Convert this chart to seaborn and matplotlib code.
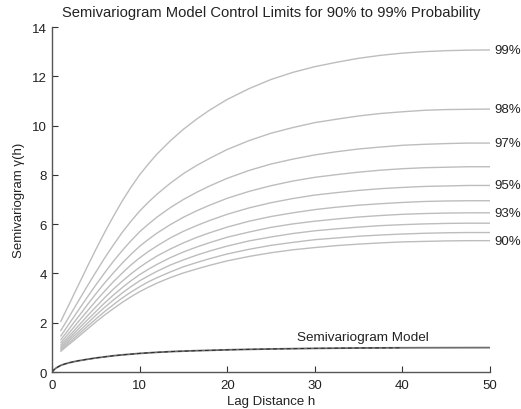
import matplotlib
matplotlib.use("Agg")
import matplotlib.pyplot as plt
import seaborn as sns
import pandas as pd

lag_limits = [1, 1.5, 2, 2.5, 3, 3.5, 4, 5, 6, 7, 8, 9, 10, 11, 12, 13.5, 15, 16.5, 18, 20,
              22.5, 25, 27.5, 30, 32.5, 35, 37.5, 40, 42.5, 45, 47.5, 50]
lag_model = [0, 0.25, 0.5, 1, 1.5, 2, 2.5, 3, 4, 5, 6, 7, 8, 10, 12, 14, 16, 18, 20,
             22.5, 25, 30, 35, 40, 45, 50]

model = [0, 0.10, 0.17, 0.27, 0.33, 0.38, 0.42, 0.455, 0.515, 0.57, 0.615, 0.66, 0.695,
         0.755, 0.80, 0.835, 0.86, 0.88, 0.90, 0.92, 0.935, 0.96, 0.975, 0.983, 0.987, 0.99]

# control limits, one list per probability
limits = {
    99: [2.05, 2.42, 2.78, 3.15, 3.52, 3.88, 4.25, 4.97, 5.66, 6.31, 6.93, 7.49, 8.00, 8.44, 8.85, 9.38,
         9.85, 10.26, 10.63, 11.06, 11.50, 11.87, 12.16, 12.39, 12.57, 12.73, 12.85, 12.94, 13.00, 13.04, 13.06, 13.07],
    98: [1.68, 1.97, 2.27, 2.57, 2.87, 3.17, 3.47, 4.05, 4.62, 5.15, 5.66, 6.11, 6.53, 6.89, 7.22, 7.66,
         8.05, 8.38, 8.67, 9.03, 9.39, 9.69, 9.92, 10.12, 10.26, 10.39, 10.49, 10.56, 10.62, 10.65, 10.66, 10.67],
    97: [1.46, 1.72, 1.98, 2.24, 2.50, 2.76, 3.02, 3.53, 4.02, 4.49, 4.92, 5.32, 5.69, 6.00, 6.29, 6.67,
         7.00, 7.29, 7.55, 7.86, 8.18, 8.44, 8.64, 8.81, 8.94, 9.05, 9.13, 9.20, 9.24, 9.27, 9.29, 9.29],
    96: [1.31, 1.54, 1.77, 2.01, 2.24, 2.47, 2.71, 3.17, 3.61, 4.02, 4.41, 4.77, 5.10, 5.38, 5.64, 5.98,
         6.28, 6.54, 6.77, 7.05, 7.33, 7.56, 7.75, 7.90, 8.01, 8.11, 8.19, 8.25, 8.29, 8.31, 8.33, 8.33],
    95: [1.19, 1.40, 1.61, 1.82, 2.04, 2.25, 2.46, 2.88, 3.28, 3.66, 4.01, 4.34, 4.63, 4.89, 5.12, 5.44,
         5.71, 5.94, 6.15, 6.40, 6.66, 6.87, 7.04, 7.18, 7.28, 7.37, 7.44, 7.49, 7.53, 7.55, 7.57, 7.57],
    94: [1.09, 1.29, 1.48, 1.67, 1.87, 2.06, 2.26, 2.64, 3.01, 3.36, 3.68, 3.98, 4.25, 4.49, 4.71, 4.99,
         5.24, 5.46, 5.65, 5.88, 6.12, 6.31, 6.46, 6.59, 6.69, 6.77, 6.83, 6.88, 6.92, 6.94, 6.95, 6.95],
    93: [1.01, 1.20, 1.38, 1.56, 1.74, 1.92, 2.10, 2.45, 2.80, 3.12, 3.42, 3.70, 3.95, 4.17, 4.37, 4.64,
         4.87, 5.07, 5.25, 5.47, 5.68, 5.87, 6.01, 6.12, 6.21, 6.29, 6.35, 6.40, 6.43, 6.45, 6.46, 6.46],
    92: [0.95, 1.12, 1.29, 1.46, 1.62, 1.79, 1.96, 2.30, 2.62, 2.92, 3.20, 3.46, 3.70, 3.90, 4.09, 4.34,
         4.55, 4.74, 4.91, 5.11, 5.32, 5.48, 5.62, 5.73, 5.81, 5.88, 5.94, 5.98, 6.01, 6.03, 6.04, 6.04],
    91: [0.89, 1.05, 1.21, 1.36, 1.52, 1.68, 1.84, 2.15, 2.45, 2.73, 3.00, 3.24, 3.46, 3.66, 3.83, 4.06,
         4.27, 4.44, 4.60, 4.79, 4.98, 5.14, 5.26, 5.37, 5.44, 5.51, 5.56, 5.60, 5.63, 5.65, 5.66, 5.66],
    90: [0.84, 0.99, 1.14, 1.28, 1.43, 1.58, 1.73, 2.03, 2.31, 2.57, 2.82, 3.05, 3.26, 3.44, 3.61, 3.83,
         4.02, 4.18, 4.33, 4.51, 4.69, 4.84, 4.96, 5.05, 5.13, 5.19, 5.24, 5.28, 5.30, 5.32, 5.33, 5.33],
}
labelled = [99, 98, 97, 95, 93, 90]

sns.set_style("ticks")
plt.rcParams['font.family'] = ['Liberation Sans', 'DejaVu Sans']
plt.rcParams['xtick.direction'] = 'in'
plt.rcParams['ytick.direction'] = 'in'

fig = plt.figure(figsize=(5.21, 4.10), dpi=100)
ax = fig.add_axes([0.0998, 0.0902, 0.8407, 0.8415])

for p, vals in limits.items():
    sns.lineplot(x=lag_limits, y=vals, ax=ax, color='#bdbdbd', linewidth=1.0)
    if p in labelled:
        ax.text(50.5, vals[-1], f'{p}%', fontsize=9.5, va='center', ha='left',
                color='#222222', clip_on=False)

df_model = pd.DataFrame({'h': lag_model, 'g': model})
sns.lineplot(data=df_model, x='h', y='g', ax=ax, color='#6e6e6e', linewidth=1.3)
sns.lineplot(data=df_model[df_model.h <= 42], x='h', y='g', ax=ax, color='#2a2a2a',
             linewidth=0.7, linestyle=(0, (4, 3)))
ax.text(35.5, 1.17, 'Semivariogram Model', fontsize=9.7, ha='center', va='bottom', color='#222222')

ax.set_xlim(0, 50)
ax.set_ylim(0, 14)
ax.set_xticks(range(0, 51, 10))
ax.set_yticks(range(0, 15, 2))
ax.tick_params(labelsize=9.5, length=4, width=0.8, colors='#333333', labelcolor='#222222')
ax.tick_params(axis='x', pad=5)
for s in ['left', 'bottom']:
    ax.spines[s].set_color('#555555')
    ax.spines[s].set_linewidth(1.0)
sns.despine(ax=ax)

ax.set_xlabel('Lag Distance h', fontsize=9.5, labelpad=3, color='#222222')
ax.set_ylabel('Semivariogram γ(h)', fontsize=9.5, labelpad=5, color='#222222')
ax.set_title('Semivariogram Model Control Limits for 90% to 99% Probability',
             fontsize=10.6, pad=8, color='#222222')

fig.savefig('out.png', dpi=100)
